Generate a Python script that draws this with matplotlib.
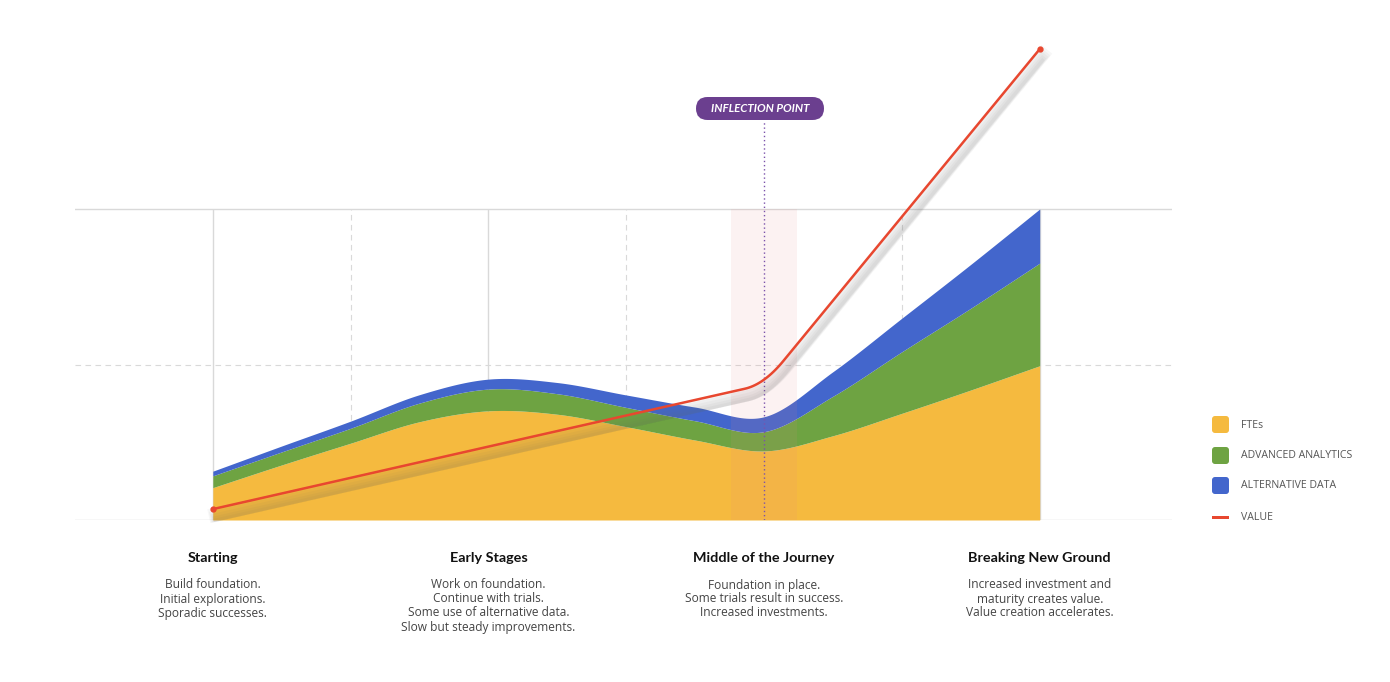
import numpy as np
import matplotlib.pyplot as plt
from matplotlib.patches import FancyBboxPatch, Rectangle
from matplotlib.transforms import IdentityTransform
import matplotlib.patheffects as pe

W, H = 1390, 682

stages = ["Starting", "Early Stages", "Middle of the Journey", "Breaking New Ground"]
notes = [
    ["Build foundation.", "Initial explorations.", "Sporadic successes."],
    ["Work on foundation.", "Continue with trials.", "Some use of alternative data.",
     "Slow but steady improvements."],
    ["Foundation in place.", "Some trials result in success.", "Increased investments."],
    ["Increased investment and", "maturity creates value.", "Value creation accelerates."],
]
# area values read every quarter stage
steps = np.arange(13) / 4
ftes = [10.4, 17.7, 24.7, 31.6, 35.1, 34.0, 30.0, 25.7, 22.2, 27.1, 34.3, 41.8, 49.6]
analytics = [3.8, 4.2, 4.8, 6.0, 7.0, 6.6, 6.2, 6.2, 6.2, 12.7, 19.8, 26.3, 33.0]
alt_data = [1.5, 1.9, 2.3, 2.7, 3.2, 3.6, 4.0, 4.4, 4.8, 7.9, 10.8, 14.1, 17.4]
# value line, one point per stage
value = [3.5, 23.6, 43.6, 151.4]
inflection = 2

names = ["FTEs", "ADVANCED ANALYTICS", "ALTERNATIVE DATA", "VALUE"]
colors = ["#f5ba3f", "#6ea342", "#4366cc", "#e8472f"]


def catmull(x, y, n=40):
    # uniform catmull-rom through the points, as cubic bezier pieces
    P = np.column_stack([x, y]).astype(float)
    Q = np.vstack([P[0], P, P[-1]])
    t = np.linspace(0, 1, n)[:, None]
    out = []
    for i in range(len(P) - 1):
        p0, p3 = Q[i + 1], Q[i + 2]
        c1 = p0 + (Q[i + 2] - Q[i]) / 6
        c2 = p3 - (Q[i + 3] - Q[i + 1]) / 6
        seg = (1 - t)**3 * p0 + 3 * (1 - t)**2 * t * c1 + 3 * (1 - t) * t**2 * c2 + t**3 * p3
        out.append(seg if i == 0 else seg[1:])
    out = np.vstack(out)
    return out[:, 0], out[:, 1]


def rounded(x, y, f=0.07, n=20):
    # polyline with small rounded corners
    P = np.column_stack([x, y]).astype(float)
    pts = [P[0]]
    t = np.linspace(0, 1, n)[:, None]
    for i in range(1, len(P) - 1):
        a = P[i] + f * (P[i - 1] - P[i])
        b = P[i] + f * (P[i + 1] - P[i])
        pts.extend((1 - t)**2 * a + 2 * (1 - t) * t * P[i] + t**2 * b)
    pts.append(P[-1])
    pts = np.array(pts)
    return pts[:, 0], pts[:, 1]


fig = plt.figure(figsize=(W / 100, H / 100), dpi=100)
px = lambda x: x / W
py = lambda y: 1 - y / H

ax = fig.add_axes([px(75), py(520), px(1172) - px(75), py(30) - py(520)])
ax.set_xlim(-0.5, 3.48)
ax.set_ylim(0, (520 - 30) / 3.11)
ax.axis("off")

xi = np.arange(len(stages))
grid_c = "#d9d9d9"
# grid
ax.axhline(100, color=grid_c, lw=1)
ax.axhline(50, color=grid_c, lw=0.8, ls=(0, (5, 4)))
ax.axhline(0, color=grid_c, lw=1)
ax.vlines([0, 1, 3], 0, 100, color=grid_c, lw=1)
ax.vlines([0.5, 1.5, 2.5], 0, 100, color=grid_c, lw=0.8, ls=(0, (5, 4)))

# stacked areas
tops = np.cumsum([ftes, analytics, alt_data], axis=0)
grid_x = np.linspace(steps[0], steps[-1], 900)
lower = np.zeros_like(grid_x)
for i, top in enumerate(tops):
    cx, cy = catmull(steps, top)
    upper = np.interp(grid_x, cx, cy)
    ax.fill_between(grid_x, lower, upper, color=colors[i], lw=0, zorder=2)
    lower = upper

# inflection band
ax.add_patch(Rectangle((inflection - 0.12, 0), 0.24, 100, color="#eb8787", alpha=0.1, lw=0, zorder=3))
ax.vlines(inflection, 0, (520 - 122) / 3.11, color="#7b52ab", lw=1, ls=(0, (1, 2)), zorder=4)

# value line with soft shadow
shadow = [pe.SimpleLineShadow(offset=(2, -4 - j), shadow_color="#666", alpha=0.05, linewidth=w)
          for j, w in enumerate([10, 8, 6, 4, 2.5])]
vx, vy = rounded(xi, value)
ax.plot(vx, vy, color=colors[3], lw=1.8, solid_joinstyle="round", clip_on=False, zorder=5,
        path_effects=shadow + [pe.Normal()])
ax.plot(xi[[0, -1]], np.array(value)[[0, -1]], "o", color=colors[3], ms=3.5,
        clip_on=False, zorder=6)

# inflection label
fig.add_artist(FancyBboxPatch((696, H - 120), 128, 23, boxstyle="round,pad=0,rounding_size=11.5",
                              transform=IdentityTransform(), facecolor="#6b3f8f", edgecolor="none"))
fig.text(px(760), py(108.5), "INFLECTION POINT", ha="center", va="center", color="white",
         fontsize=8.3, fontweight="bold", style="italic", family="Lato")

# stage captions
for i, (st, nt) in enumerate(zip(stages, notes)):
    xp = ax.transData.transform((i, 0))[0] / W
    fig.text(xp, py(558), st, ha="center", va="center", fontsize=10.4, fontweight="bold",
             family="Lato", color="#111")
    for k, line in enumerate(nt):
        fig.text(xp, py(585 + 14 * k), line, ha="center", va="center", fontsize=8.6,
                 family="Open Sans", color="#444")

# legend
for j, (nm, c) in enumerate(zip(names, colors)):
    yy = [425, 456, 486, 517][j]
    if j < 3:
        fig.add_artist(FancyBboxPatch((1212, H - yy - 8), 17, 17, boxstyle="round,pad=0,rounding_size=3",
                                      transform=IdentityTransform(), facecolor=c, edgecolor="none"))
    else:
        fig.add_artist(Rectangle((1212, H - yy - 2), 17, 3.5, transform=IdentityTransform(),
                                 facecolor=c, edgecolor="none"))
    fig.text(px(1241), py(yy), nm, ha="left", va="center", fontsize=7.6, family="Open Sans", color="#555")

fig.savefig("out.png", dpi=100, facecolor="white")
